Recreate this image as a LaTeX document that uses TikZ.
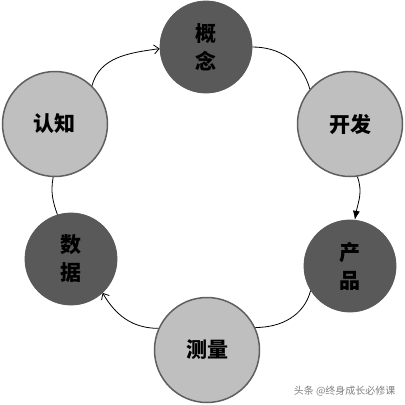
\documentclass[tikz,border=0pt]{standalone}
\usepackage{fontspec}
\newfontfamily\cjk{Noto Sans CJK SC}
\usetikzlibrary{arrows.meta}
\definecolor{darkc}{HTML}{595959}
\definecolor{lightc}{HTML}{BFBFBF}
\definecolor{edgec}{HTML}{5F5F5F}
\begin{document}
\begin{tikzpicture}[x=1pt,y=-1pt,
  darkbox/.style={circle,fill=darkc,draw=darkc,line width=0.8pt,minimum size=92pt,inner sep=0pt,
    font=\cjk\bfseries\fontsize{21}{28}\selectfont,align=center},
  lightbox/.style={circle,fill=lightc,draw=edgec,line width=1.5pt,minimum size=105pt,inner sep=0pt,
    font=\cjk\bfseries\fontsize{21}{25}\selectfont},
  conn/.style={line width=0.8pt,black},
  openhead/.style={-{Straight Barb[length=5pt,width=9pt]}},
  fillhead/.style={-{Latex[length=9pt,width=7pt]}}
]
\path[use as bounding box] (0,0) rectangle (405,405);
\fill[white] (0,0) rectangle (405,405);
\node[darkbox] (gainian) at (206,47) {概\\念};
\node[lightbox] (kaifa) at (350,124) {开发};
\node[darkbox] (chanpin) at (350,266) {产\\品};
\node[lightbox] (celiang) at (207,350) {测量};
\node[darkbox] (shuju) at (71,259) {数\\据};
\node[lightbox] (renzhi) at (55,124) {认知};
\draw[conn,openhead] (renzhi.46) to[out=75,in=188] (gainian.182);
\draw[conn] (gainian.0) to[out=0,in=105] (kaifa.139);
\draw[conn,fillhead] (kaifa.-82) to[out=-70,in=80] (chanpin.84);
\draw[conn] (chanpin.212) to[out=-105,in=0] (celiang.25);
\draw[conn,openhead] (celiang.156) to[out=180,in=-60] (shuju.-47);
\draw[conn] (shuju.107) to[out=110,in=-100] (renzhi.-92);
\node[font=\cjk\fontsize{10}{12}\selectfont,text=gray,anchor=east] (wm) at (399,391) {头条 @终身成长必修课};
\end{tikzpicture}
\end{document}
